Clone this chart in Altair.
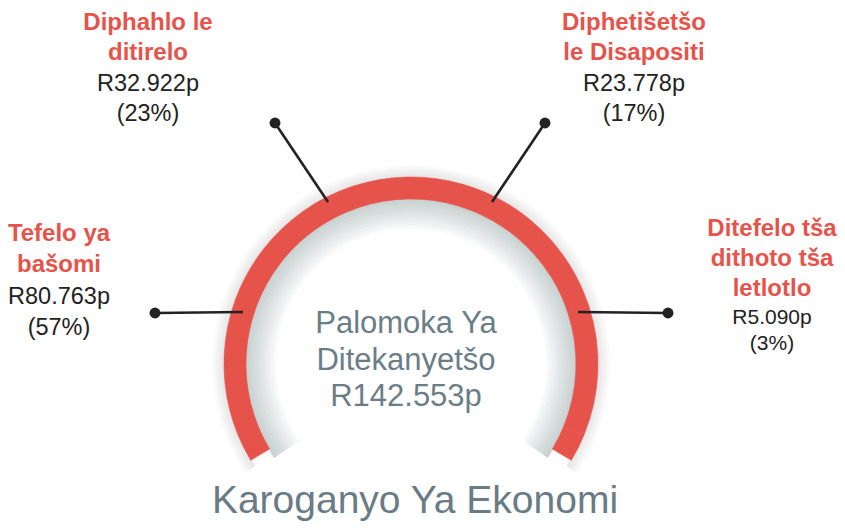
import altair as alt
import pandas as pd
import math

# ---- data ----
categories = ["Tefelo ya bašomi", "Diphahlo le ditirelo",
              "Diphetišetšo le Disapositi", "Ditefelo tša dithoto tša letlotlo"]
name_lines = [["Tefelo ya", "bašomi"], ["Diphahlo le", "ditirelo"],
              ["Diphetišetšo", "le Disapositi"], ["Ditefelo tša", "dithoto tša", "letlotlo"]]
values = [80.763, 32.922, 23.778, 5.090]
percents = [57, 23, 17, 3]
center_title = ["Palomoka Ya", "Ditekanyetšo"]
chart_title = "Karoganyo Ya Ekonomi"

# ---- layout (screen pixels) ----
CX, CY = 411, 364
R_OUT, R_IN = 187, 165
TWO_PI = 2 * math.pi
TH = 2.112
T0, T1 = TWO_PI - TH, TWO_PI + TH
RED = "#e5534b"
FONT = "Liberation Sans"
label_x = [59, 148, 634, 772]
red_base = [[241, 272], [30, 60], [30, 60], [236, 266, 296]]
val_base = [[304, 335], [91, 121], [91, 121], [324, 350]]
value_size = [23.5, 23.5, 23.5, 21]
dot_xy = [(155, 313), (275, 123), (545, 123), (668, 313)]
arc_xy = [(243, 312), (328, 202), (492, 202), (578, 312)]

W, H = 829, 513
xs = alt.Scale(domain=[8, 8 + W], nice=False, zero=False)
ys = alt.Scale(domain=[8 + H, 8], nice=False, zero=False)

one = pd.DataFrame({"a": [0]})
cxv = alt.value(CX - 8)
cyv = alt.value(CY - 8)

layers = []
# shadows
for k in range(1, 11):
    layers.append(alt.Chart(one).mark_arc(theta=T0 - 0.06, theta2=T1 + 0.06, radius=R_IN + 1,
                                          radius2=R_IN - 3 * k, color="#7d858c", opacity=0.045)
                  .encode(x=cxv, y=cyv))
for k in range(1, 7):
    layers.append(alt.Chart(one).mark_arc(theta=T0 - 0.04, theta2=T1 + 0.04, radius=R_OUT + 2 * k,
                                          radius2=R_OUT - 1, color="#7d858c", opacity=0.03)
                  .encode(x=cxv, y=cyv))

df = pd.DataFrame({"cat": categories, "val": values, "ord": list(range(len(values)))})
arc = alt.Chart(df).mark_arc(radius=R_OUT, radius2=R_IN, color=RED, stroke=RED, strokeWidth=0.6).encode(
    x=cxv, y=cyv,
    theta=alt.Theta("val:Q", stack=True, scale=alt.Scale(range=[T0, T1])),
    order=alt.Order("ord:Q"),
    detail="cat:N",
)
layers.append(arc)

# leader lines
lines = []
for i, ((dx, dy), (ax, ay)) in enumerate(zip(dot_xy, arc_xy)):
    lines.append({"g": i, "x": dx, "y": dy, "o": 0})
    lines.append({"g": i, "x": ax, "y": ay, "o": 1})
ldf = pd.DataFrame(lines)
layers.append(alt.Chart(ldf).mark_line(color="#222222", strokeWidth=2.6).encode(
    x=alt.X("x:Q", scale=xs, axis=None), y=alt.Y("y:Q", scale=ys, axis=None),
    detail="g:N", order="o:Q"))
ddf = pd.DataFrame({"x": [p[0] for p in dot_xy], "y": [p[1] for p in dot_xy]})
layers.append(alt.Chart(ddf).mark_point(filled=True, color="#222222", size=120, opacity=1).encode(
    x=alt.X("x:Q", scale=xs, axis=None), y=alt.Y("y:Q", scale=ys, axis=None)))

# labels
red_rows, val_rows = [], []
for i in range(len(categories)):
    for ln, yb in zip(name_lines[i], red_base[i]):
        red_rows.append({"x": label_x[i], "y": yb, "t": ln})
    val_rows.append({"x": label_x[i], "y": val_base[i][0], "t": f"R{values[i]:.3f}p", "s": value_size[i]})
    val_rows.append({"x": label_x[i], "y": val_base[i][1], "t": f"({percents[i]}%)", "s": value_size[i]})
layers.append(alt.Chart(pd.DataFrame(red_rows)).mark_text(
    font=FONT, fontWeight="bold", fontSize=24, color=RED, baseline="alphabetic", align="center").encode(
    x=alt.X("x:Q", scale=xs, axis=None), y=alt.Y("y:Q", scale=ys, axis=None), text="t:N"))
layers.append(alt.Chart(pd.DataFrame(val_rows)).mark_text(
    font=FONT, color="#222222", baseline="alphabetic", align="center").encode(
    x=alt.X("x:Q", scale=xs, axis=None), y=alt.Y("y:Q", scale=ys, axis=None), text="t:N",
    size=alt.Size("s:Q", scale=None, legend=None)))

total = sum(values)
crows = [{"x": 406, "y": 333, "t": center_title[0]},
         {"x": 406, "y": 370, "t": center_title[1]},
         {"x": 406, "y": 406, "t": f"R{total:.3f}p"}]
layers.append(alt.Chart(pd.DataFrame(crows)).mark_text(
    font=FONT, fontSize=31, color="#6b7d87", baseline="alphabetic", align="center").encode(
    x=alt.X("x:Q", scale=xs, axis=None), y=alt.Y("y:Q", scale=ys, axis=None), text="t:N"))
layers.append(alt.Chart(pd.DataFrame([{"x": 415, "y": 513, "t": chart_title}])).mark_text(
    font=FONT, fontSize=39, color="#6a7b85", baseline="alphabetic", align="center").encode(
    x=alt.X("x:Q", scale=xs, axis=None), y=alt.Y("y:Q", scale=ys, axis=None), text="t:N"))

chart = alt.layer(*layers).properties(width=W, height=H, padding=0, autosize=alt.AutoSizeParams(type="none")
                                      ).configure_view(stroke=None)
chart.save("out.html", embed_options={"renderer": "svg", "actions": False})
